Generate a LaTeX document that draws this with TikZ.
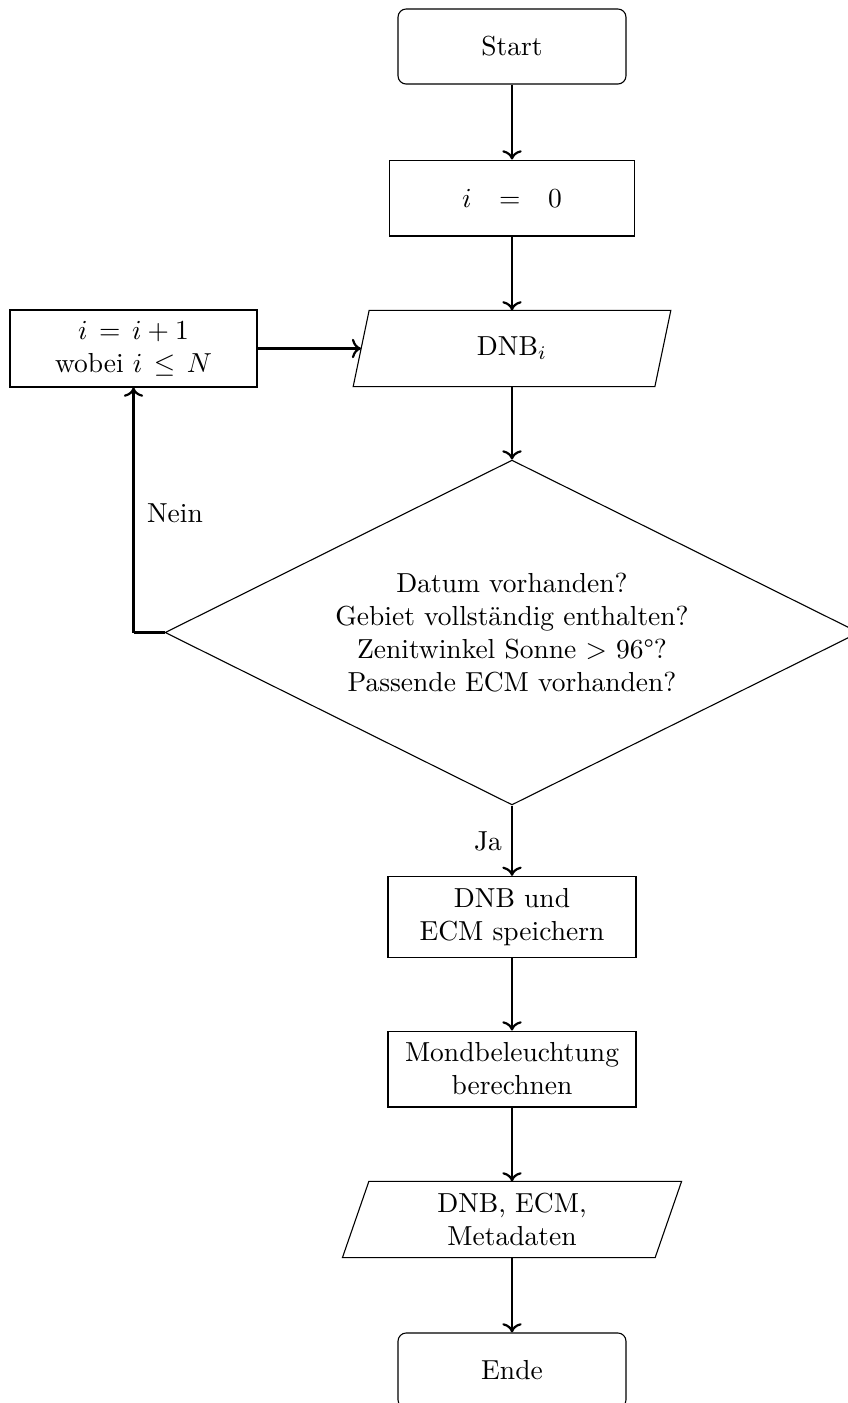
\documentclass[tikz,border=0pt]{standalone}
\usetikzlibrary{shapes.geometric,arrows.meta}
\begin{document}
\begin{tikzpicture}[x=0.3636pt,y=-0.3636pt,
  base/.style={inner sep=0pt,align=center,font=\normalsize},
  startstop/.style={base,draw,rounded corners=3pt,minimum width=82.9pt,minimum height=27.3pt},
  process/.style={base,draw,minimum width=90pt,minimum height=27.6pt},
  iobox/.style={base,minimum height=27.3pt},
  decision/.style={base,draw,diamond,aspect=2,minimum width=252.3pt,minimum height=125.4pt},
  conn/.style={thick,->},
  lbl/.style={inner sep=0pt}]
\useasboundingbox (0,0) rectangle (848,1403);
\node[startstop] (start) at (512,46.5) {Start};
\node[process,minimum width=89.4pt] (init) at (512,198) {$i$\quad$=$\quad$0$};
\node[iobox,minimum width=109.3pt] (dnbi) at (512,348.5) {DNB$_i$};
\draw ([xshift=2.9pt]dnbi.north west) -- ([xshift=2.9pt]dnbi.north east)
  -- ([xshift=-2.9pt]dnbi.south east) -- ([xshift=-2.9pt]dnbi.south west) -- cycle;
\node[process,minimum width=89.8pt,minimum height=28pt] (incr) at (133.5,348.5) {$i$\hspace{4.2pt}$=$\hspace{4.2pt}$i+1$\\wobei $i$\hspace{4.2pt}$\leq$\hspace{4.2pt}$N$};
\node[decision] (dec) at (512,632.5) {Datum vorhanden?\\Gebiet vollständig enthalten?\\Zenitwinkel Sonne $>$ 96°?\\Passende ECM vorhanden?};
\node[process,minimum width=90.2pt,minimum height=29.5pt] (save) at (512,917) {DNB und\\ECM speichern};
\node[process,minimum width=90.2pt,minimum height=27.6pt] (moon) at (512,1069) {Mondbeleuchtung\\berechnen};
\node[iobox,minimum width=113.3pt] (out) at (512,1219.5) {DNB, ECM,\\Metadaten};
\draw ([xshift=4.8pt]out.north west) -- ([xshift=4.8pt]out.north east)
  -- ([xshift=-4.8pt]out.south east) -- ([xshift=-4.8pt]out.south west) -- cycle;
\node[startstop] (end) at (512,1370.5) {Ende};
\coordinate (corner) at (133.5,632.5);
\draw[conn] (start) -- (init);
\draw[conn] (init) -- (dnbi);
\draw[conn] (dnbi) -- (dec);
\draw[conn] (incr) -- (dnbi);
\draw[thick] (dec.west) -- (corner);
\draw[conn] (corner) -- (incr.south);
\draw[conn] (dec) -- (save);
\draw[conn] (save) -- (moon);
\draw[conn] (moon) -- (out);
\draw[conn] (out) -- (end);
\node[lbl] (nein) at (175,513) {Nein};
\node[lbl] (ja) at (488,841) {Ja};
\end{tikzpicture}
\end{document}
